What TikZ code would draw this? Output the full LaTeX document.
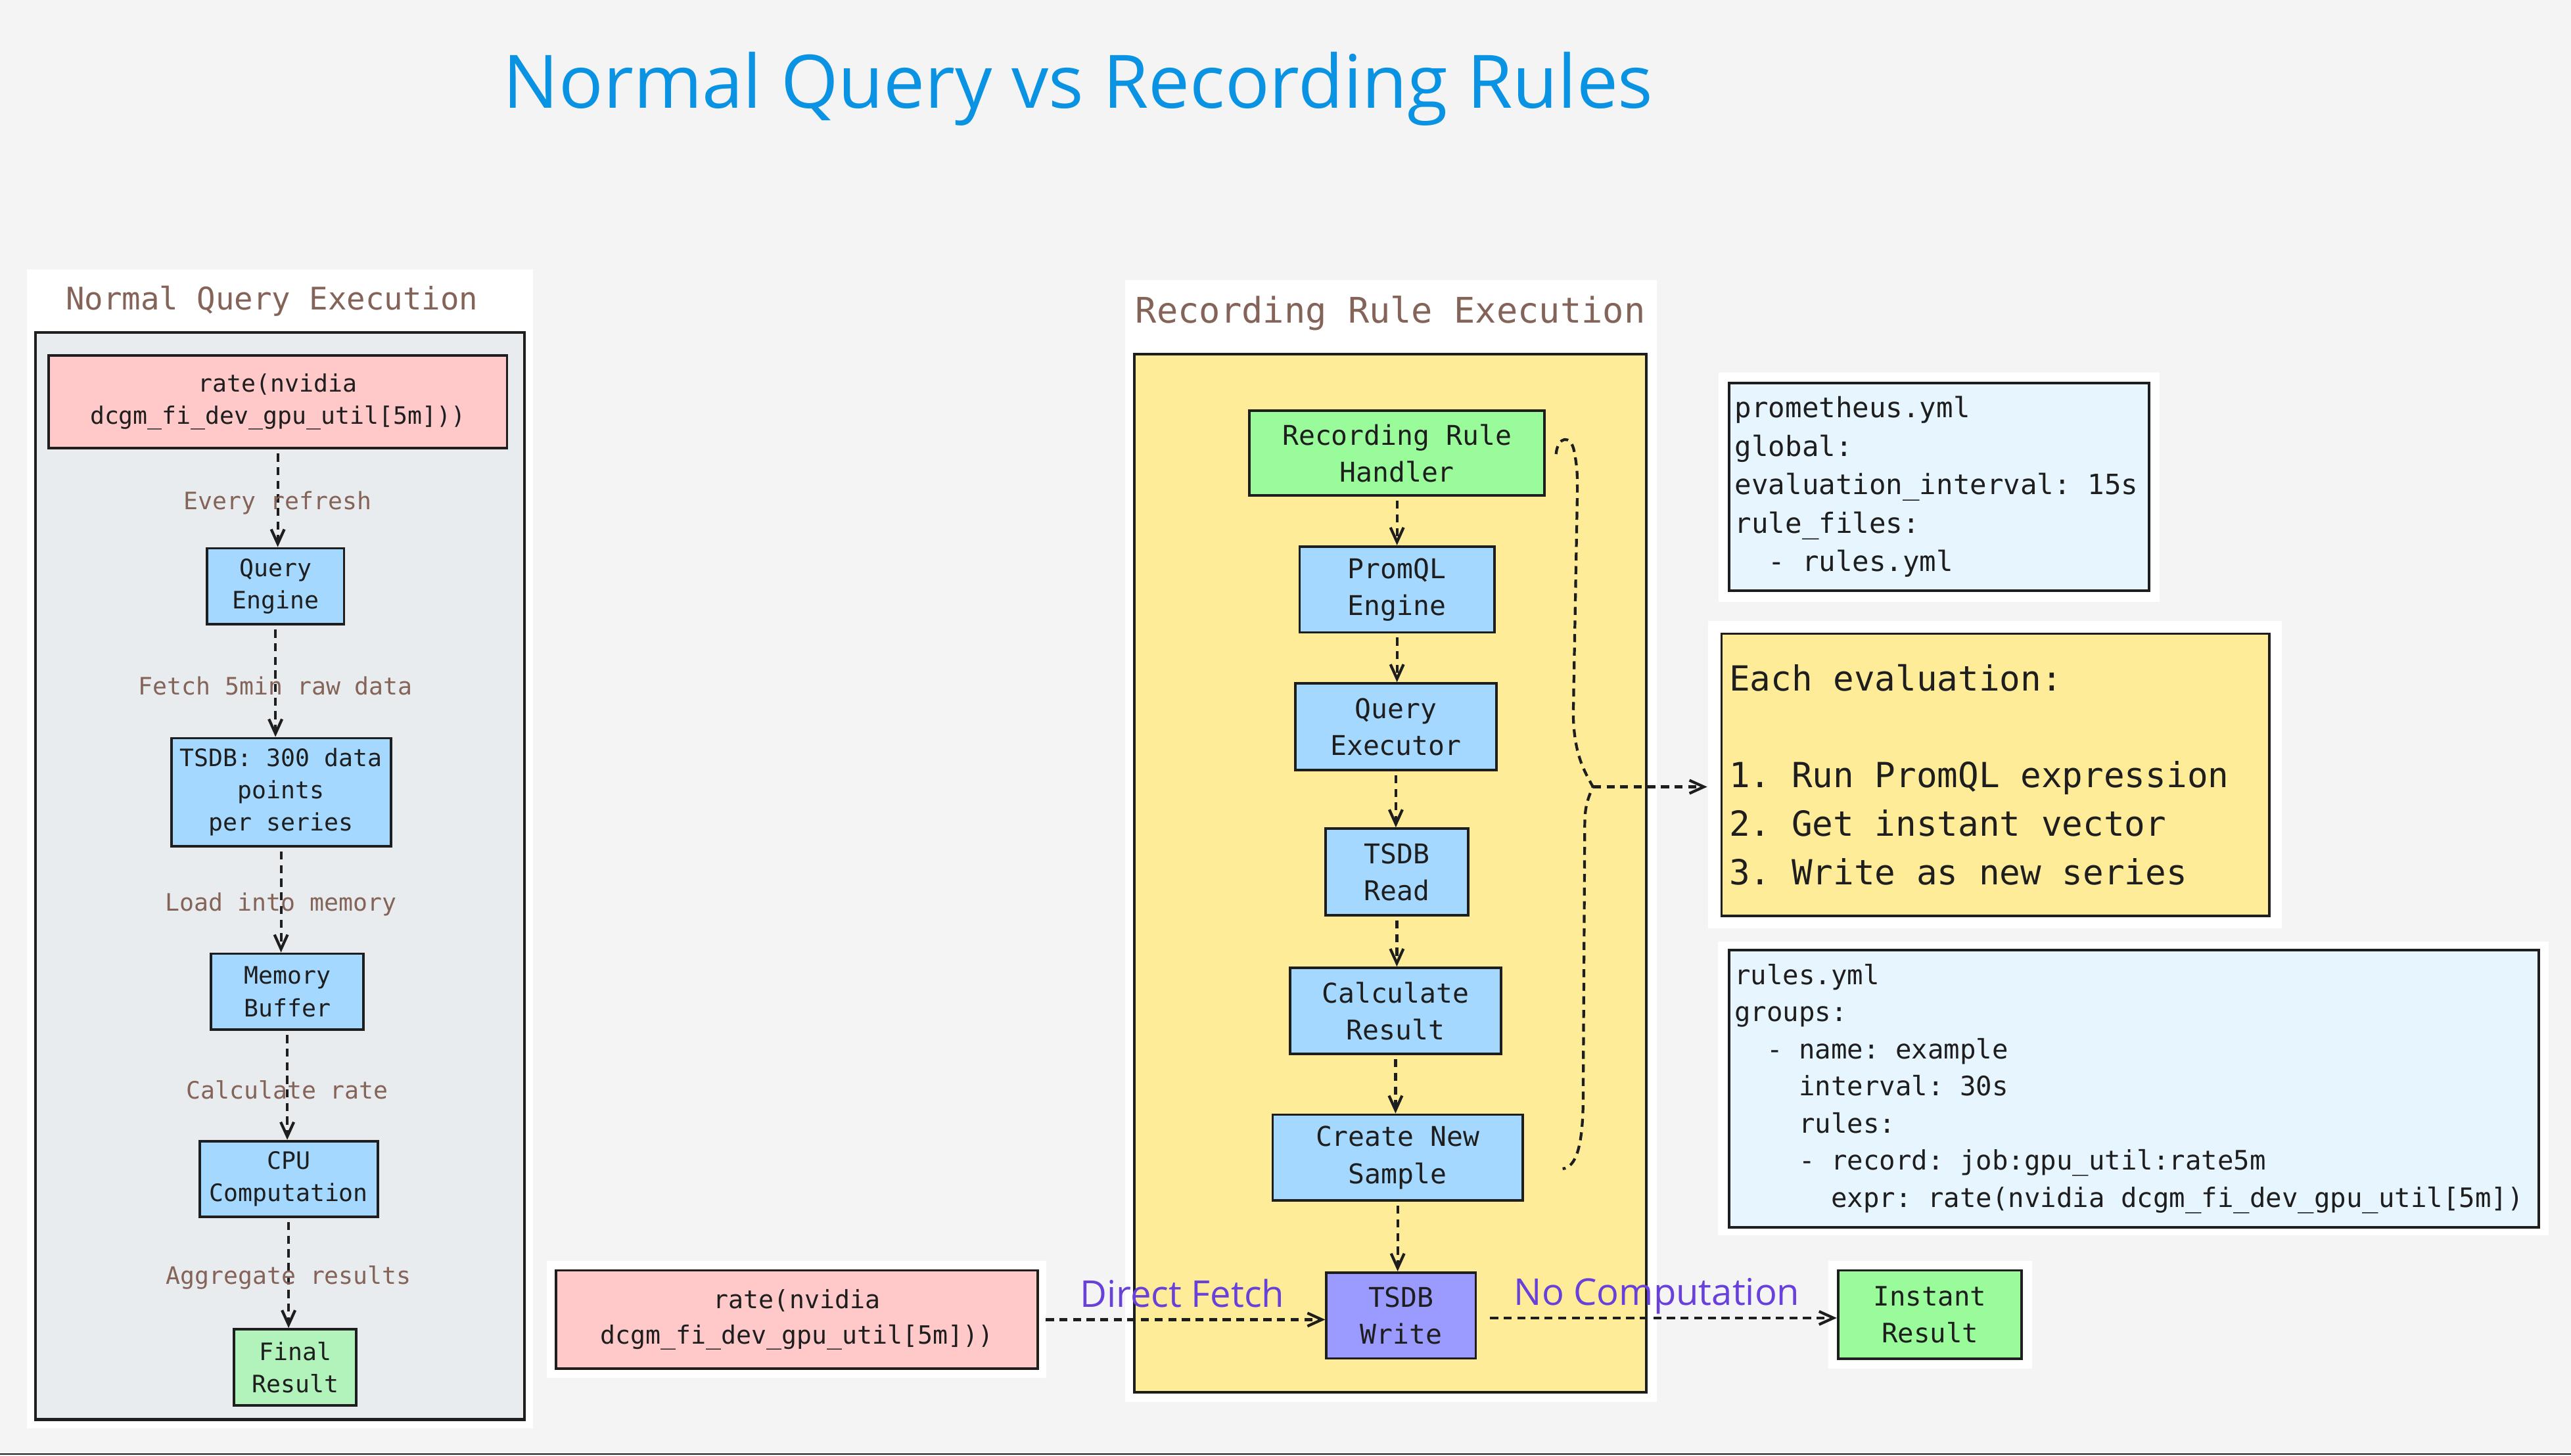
\documentclass[tikz,border=0pt]{standalone}
\usepackage{fontspec}
\setmainfont{Open Sans}
\setmonofont{DejaVu Sans Mono}
\usetikzlibrary{arrows.meta,positioning}

\definecolor{canvas}{HTML}{F4F4F4}
\definecolor{ink}{HTML}{1E1E1E}
\definecolor{panelgray}{HTML}{E9ECEF}
\definecolor{paneyellow}{HTML}{FFEC99}
\definecolor{querypink}{HTML}{FFC9C9}
\definecolor{stageblue}{HTML}{A5D8FF}
\definecolor{codeblue}{HTML}{E7F5FF}
\definecolor{resultgreen}{HTML}{B2F2BB}
\definecolor{rulegreen}{HTML}{99FB99}
\definecolor{writeviolet}{HTML}{9B9BFF}
\definecolor{labelbrown}{HTML}{846358}
\definecolor{fastpurple}{HTML}{6741D9}
\definecolor{titleblue}{HTML}{0A93E2}

\newcommand\qfont{\ttfamily\fontsize{10.4}{14}\selectfont}
\newcommand\rfont{\ttfamily\fontsize{11.8}{16}\selectfont}

\tikzset{
  stage/.style={draw=ink, line width=1.1pt, text=ink, align=center, inner sep=0pt},
  boxsize/.style 2 args={minimum width=#1cm, minimum height=#2cm},
  flow/.style={draw=ink, line width=1.2pt, dash pattern=on 3.5pt off 2.4pt,
    shorten <=0.06cm, -{Straight Barb[length=2.2mm,width=2mm]}},
  steplabel/.style={font=\ttfamily\fontsize{10.4}{12}\selectfont, text=labelbrown,
    yshift=-0.07cm},
  pathlabel/.style={font=\fontsize{16}{18}\selectfont, text=fastpurple,
    midway, anchor=base, yshift=0.19cm},
  codebox/.style={draw=ink, line width=1.1pt, fill=codeblue, text=ink, align=left,
    inner xsep=0.09cm, inner ysep=0pt,
    execute at begin node={\spaceskip=0pt\xspaceskip=0pt\relax}},
  paneltitle/.style={text=labelbrown, anchor=base}
}

\begin{document}
\begin{tikzpicture}[x=0.025cm, y=-0.025cm]
\useasboundingbox (0,0) rectangle (1568,888);
\fill[canvas] (0,0) rectangle (1568,888);
\draw[ink, line width=0.6pt] (0,887) -- (1568,887);

% Title
\node[font=\fontsize{32}{36}\selectfont, text=titleblue, anchor=base] (title)
  at (657.6,66) {Normal Query vs Recording Rules};

% white backings
\fill[white] (16.3,164.3) rectangle (325.2,871.4);
\fill[white] (686,170.7) rectangle (1010.4,855.3);
\fill[white] (1048,227.4) rectangle (1317,367);
\fill[white] (1041.6,378.8) rectangle (1391.6,566.3);
\fill[white] (1047.8,574.3) rectangle (1554.3,753.4);
\fill[white] (333.3,769) rectangle (638,840.5);
\fill[white] (1115,769) rectangle (1239.3,835);

% Normal query panel
\draw[ink, line width=1.2pt, fill=panelgray] (21.5,202.9) rectangle (319.9,866);
\node[paneltitle, font=\ttfamily\fontsize{13.5}{16}\selectfont] (normaltitle)
  at (165.9,189) {Normal Query Execution};

\node[stage, fill=querypink, font=\qfont, boxsize={6.99}{1.42}] (nquery)
  at (169.4,245.1) {rate(nvidia\\dcgm\_fi\_dev\_gpu\_util[5m]))};
\node[stage, fill=stageblue, font=\qfont, boxsize={2.09}{1.16}] (qengine)
  at (168,357.7) {Query\\Engine};
\node[stage, fill=stageblue, font=\qfont, boxsize={3.345}{1.65}] (tsdbscan)
  at (171.4,483.3) {TSDB: 300 data\\points\\per series};
\node[stage, fill=stageblue, font=\qfont, boxsize={2.32}{1.16}] (membuf)
  at (175.2,605) {Memory\\Buffer};
\node[stage, fill=stageblue, font=\qfont, boxsize={2.715}{1.155}] (cpucomp)
  at (176,719.2) {CPU\\Computation};
\node[stage, fill=resultgreen, font=\qfont, boxsize={1.86}{1.16}] (finalres)
  at (180,834.1) {Final\\Result};

\draw[flow] (nquery.south) -- node[steplabel] {Every refresh} (nquery.south |- qengine.north);
\draw[flow] (qengine.south) -- node[steplabel] {Fetch 5min raw data} (qengine.south |- tsdbscan.north);
\draw[flow] (tsdbscan.south) -- node[steplabel] {Load into memory} (tsdbscan.south |- membuf.north);
\draw[flow] (membuf.south) -- node[steplabel] {Calculate rate} (membuf.south |- cpucomp.north);
\draw[flow] (cpucomp.south) -- node[steplabel] {Aggregate results} (cpucomp.south |- finalres.north);

% Recording rule panel
\draw[ink, line width=1.2pt, fill=paneyellow] (691.7,216) rectangle (1003.9,849.2);
\node[paneltitle, font=\ttfamily\fontsize{15.3}{18}\selectfont] (ruletitle)
  at (848,197.1) {Recording Rule Execution};

\node[stage, fill=rulegreen, font=\rfont, boxsize={4.5}{1.295}] (handler)
  at (852,276.4) {Recording Rule\\Handler};
\node[stage, fill=stageblue, font=\rfont, boxsize={2.97}{1.31}] (promql)
  at (852,359.6) {PromQL\\Engine};
\node[stage, fill=stageblue, font=\rfont, boxsize={3.065}{1.32}] (executor)
  at (851.3,443.3) {Query\\Executor};
\node[stage, fill=stageblue, font=\rfont, boxsize={2.175}{1.32}] (tsdbread)
  at (851.9,531.9) {TSDB\\Read};
\node[stage, fill=stageblue, font=\rfont, boxsize={3.215}{1.315}] (calcres)
  at (851.1,616.7) {Calculate\\Result};
\node[stage, fill=stageblue, font=\rfont, boxsize={3.81}{1.31}] (newsample)
  at (852.4,706.2) {Create New\\Sample};
\node[stage, fill=writeviolet, font=\rfont, boxsize={2.275}{1.31}] (tsdbwrite)
  at (854.5,802.5) {TSDB\\Write};

\draw[flow] (handler.south) -- (handler.south |- promql.north);
\draw[flow] (promql.south) -- (promql.south |- executor.north);
\draw[flow] (executor.south) -- (executor.south |- tsdbread.north);
\draw[flow] (tsdbread.south) -- (tsdbread.south |- calcres.north);
\draw[flow] (calcres.south) -- (calcres.south |- newsample.north);
\draw[flow] (newsample.south) -- (newsample.south |- tsdbwrite.north);

% Config and notes
\node[codebox, font=\ttfamily\fontsize{12.1}{16.7}\selectfont, text width=6.22cm,
  minimum height=3.16cm] (promyml) at (1182.5,297)
  {prometheus.yml\\global:\\evaluation\_interval: 15s\\rule\_files:\\~~- rules.yml};
\node[codebox, fill=paneyellow, font=\ttfamily\fontsize{15}{21}\selectfont,
  text width=8.115cm, inner xsep=0.115cm, minimum height=4.3cm] (evalbox)
  at (1216.9,472.6)
  {Each evaluation:\\[21pt]1. Run PromQL expression\\2. Get instant vector\\3. Write as new series};
\node[codebox, font=\ttfamily\fontsize{11.6}{16.1}\selectfont, text width=12.17cm,
  inner xsep=0.0875cm, minimum height=4.23cm] (rulesyml) at (1301.4,664.1)
  {rules.yml\\groups:\\~~- name: example\\~~~~interval: 30s\\~~~~rules:\\
   ~~~~- record: job:gpu\_util:rate5m\\
   ~~~~~~expr:~rate(nvidia~dcgm\_fi\_dev\_gpu\_util[5m])};

% Brace over the evaluation steps
\coordinate (bracetip) at (971.5,480);
\draw[ink, line width=1.2pt, dash pattern=on 3.5pt off 2.4pt]
  (949,277) .. controls (950,266) and (958,265) .. (960,275)
  .. controls (962,285) and (962,290) .. (962,300)
  -- (959.5,436) .. controls (960,460) and (966,470) .. (bracetip)
  .. controls (967,490) and (966.5,495) .. (966.5,505)
  -- (965.5,674) .. controls (965,700) and (961,712) .. (953,713);
\draw[flow, shorten <=0pt, shorten >=0.2cm] (bracetip) -- (bracetip -| evalbox.west);

% Fast path
\node[stage, fill=querypink, font=\ttfamily\fontsize{10.9}{15.2}\selectfont,
  boxsize={7.35}{1.5}] (rquery) at (486,805)
  {rate(nvidia\\dcgm\_fi\_dev\_gpu\_util[5m]))};
\node[stage, fill=rulegreen, font=\ttfamily\fontsize{11.6}{16.2}\selectfont,
  boxsize={2.8}{1.35}] (instant) at (1177,802) {Instant\\Result};

\draw[flow, shorten <=0.1cm] (rquery.east) -- node[pathlabel] {Direct Fetch}
  (rquery.east -| tsdbwrite.west);
\draw[flow, shorten <=0.2cm] (tsdbwrite.east |- 0,804) -- node[pathlabel] {No Computation}
  (instant.west |- 0,804);

\end{tikzpicture}
\end{document}
